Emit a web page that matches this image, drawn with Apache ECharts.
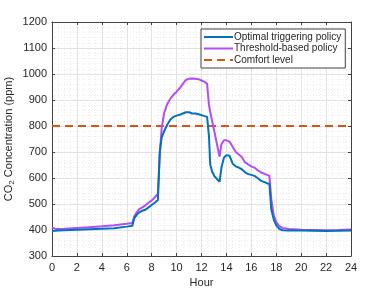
<!DOCTYPE html>
<html>
<head>
<meta charset="utf-8">
<script src="https://cdn.jsdelivr.net/npm/echarts@6/dist/echarts.min.js"></script>
<style>html,body{margin:0;padding:0;background:#fff}#c{width:388px;height:291px}</style>
</head>
<body>
<div id="c"></div>
<script>
const hours = [0,0.25,0.5,1,2,3,4,5,6,6.45,6.6,6.8,7.0,7.25,7.5,7.75,8.0,8.25,8.5,8.65,8.8,9.0,9.25,9.5,9.75,10.0,10.25,10.5,10.75,11.0,11.25,11.5,11.75,12.0,12.25,12.45,12.6,12.7,12.85,13.05,13.25,13.45,13.6,13.8,14.0,14.25,14.5,14.75,15.0,15.25,15.5,15.75,16.0,16.25,16.5,16.75,17.0,17.25,17.45,17.6,17.8,18.0,18.25,18.5,19,20,21,22,23,24];
const optimalPolicy = [396,397,398,399,401,403,405,407,413,416,445,458,468,474,478,487,496,505,515,700,755,780,805,825,835,840,843,848,853,853,848,848,845,842,838,835,760,652,625,606,596,585,640,678,688,686,655,645,640,633,622,615,612,608,600,590,585,580,577,480,440,418,404,399,398,398,397,396,397,398];
const thresholdPolicy = [410,405,404,405,408,411,414,418,424,427,452,468,480,487,495,505,513,526,540,690,790,850,885,905,920,932,945,962,977,982,983,982,980,975,970,962,880,855,820,775,728,682,730,745,745,740,720,700,690,680,660,652,645,640,630,622,617,612,608,520,455,430,415,408,404,401,400,399,400,402];
const comfortHours = [0,24];
const comfortLevel = [800,800];
const seriesNames = ['Optimal triggering policy','Threshold-based policy','Comfort level'];
const xTicks = {min:0,max:24,interval:2};
const yTicks = {min:300,max:1200,interval:100};

const pair = (xs, ys) => xs.map((x,i)=>[x,ys[i]]);
const font = 'Liberation Sans, Arial, sans-serif';
const axisCol = '#404040';
const chart = echarts.init(document.getElementById('c'), null, {renderer:'canvas'});
const gridLines = {show:true, lineStyle:{color:'#e2e2e2', width:1}};
const minorLines = {show:true, lineStyle:{color:'#ececec', width:1, type:[1,2]}};
chart.setOption({
  animation:false,
  backgroundColor:'#fff',
  grid:{left:52, top:22, right:37, bottom:35, containLabel:false, outerBoundsMode:'none'},
  legend:{
    left:201, top:29, orient:'vertical',
    padding:[3,4,3,2], itemGap:1.5, itemWidth:29, itemHeight:11,
    borderColor:'#404040', borderWidth:1, backgroundColor:'#fff',
    itemStyle:{opacity:0},
    textStyle:{fontFamily:font, fontSize:10, color:'#262626', padding:[0,0,0,-4]},
    data:seriesNames.map(n=>({name:n}))
  },
  xAxis:[{
    type:'value', min:xTicks.min, max:xTicks.max, interval:xTicks.interval,
    name:'Hour', nameLocation:'middle', nameGap:21, nameMoveOverlap:false,
    nameTextStyle:{fontFamily:font, fontSize:11, color:'#262626'},
    axisLine:{show:true, onZero:false, lineStyle:{color:axisCol}},
    axisTick:{show:true, inside:true, length:3, lineStyle:{color:axisCol}},
    axisLabel:{fontFamily:font, fontSize:11, color:'#262626', margin:6},
    splitLine:gridLines,
    minorTick:{show:false, splitNumber:4},
    minorSplitLine:minorLines
  },{
    type:'value', position:'top', min:xTicks.min, max:xTicks.max, interval:xTicks.interval,
    axisLine:{show:true, onZero:false, lineStyle:{color:axisCol}},
    axisTick:{show:true, inside:true, length:3, lineStyle:{color:axisCol}},
    axisLabel:{show:false}, splitLine:{show:false}
  }],
  yAxis:[{
    type:'value', min:yTicks.min, max:yTicks.max, interval:yTicks.interval,
    name:'CO{sub|2} Concentration (ppm)', nameLocation:'middle', nameGap:36, nameMoveOverlap:false,
    nameTextStyle:{fontFamily:font, fontSize:11, color:'#262626',
      rich:{sub:{fontFamily:font, fontSize:8, color:'#262626', verticalAlign:'bottom', padding:[6,0,0,0]}}},
    axisLine:{show:true, onZero:false, lineStyle:{color:axisCol}},
    axisTick:{show:true, inside:true, length:3, lineStyle:{color:axisCol}},
    axisLabel:{fontFamily:font, fontSize:11, color:'#262626', margin:5, formatter:v=>String(v)},
    splitLine:gridLines,
    minorTick:{show:false, splitNumber:5},
    minorSplitLine:minorLines
  },{
    type:'value', position:'right', min:yTicks.min, max:yTicks.max, interval:yTicks.interval,
    axisLine:{show:true, onZero:false, lineStyle:{color:axisCol}},
    axisTick:{show:true, inside:true, length:3, lineStyle:{color:axisCol}},
    axisLabel:{show:false}, splitLine:{show:false}
  }],
  series:[
    {name:seriesNames[0], type:'line', data:pair(hours,optimalPolicy), showSymbol:false, symbol:'none',
     lineStyle:{color:'#0072BD', width:2}, itemStyle:{color:'#0072BD'}, z:4},
    {name:seriesNames[1], type:'line', data:pair(hours,thresholdPolicy), showSymbol:false, symbol:'none',
     lineStyle:{color:'#B44CF8', width:2}, itemStyle:{color:'#B44CF8'}, z:3},
    {name:seriesNames[2], type:'line', data:pair(comfortHours,comfortLevel), showSymbol:false, symbol:'none',
     lineStyle:{color:'#D95319', width:2, type:[8,5]}, itemStyle:{color:'#D95319'}, z:2}
  ]
});
</script>
</body>
</html>
